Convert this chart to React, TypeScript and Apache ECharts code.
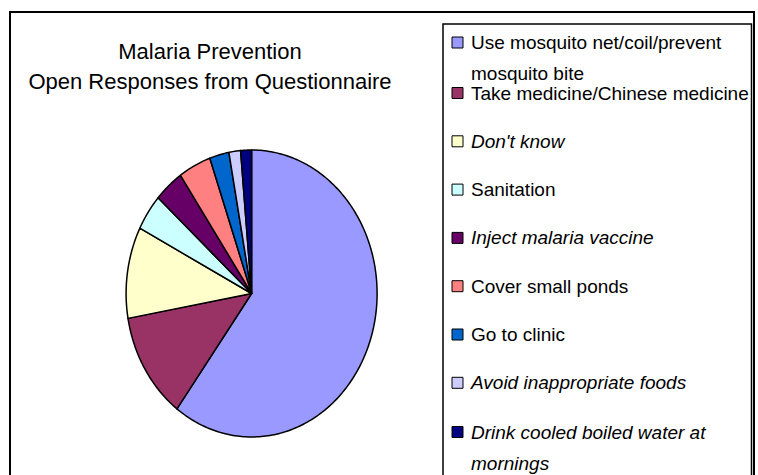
import React, { useEffect, useRef } from "react";
import * as echarts from "echarts";

// ---- data ----
const categories = [
  "Use mosquito net/coil/prevent mosquito bite",
  "Take medicine/Chinese medicine",
  "Don't know",
  "Sanitation",
  "Inject malaria vaccine",
  "Cover small ponds",
  "Go to clinic",
  "Avoid inappropriate foods",
  "Drink cooled boiled water at mornings",
];
const legendLines = [
  ["Use mosquito net/coil/prevent", "mosquito bite"],
  ["Take medicine/Chinese medicine"],
  ["Don't know"],
  ["Sanitation"],
  ["Inject malaria vaccine"],
  ["Cover small ponds"],
  ["Go to clinic"],
  ["Avoid inappropriate foods"],
  ["Drink cooled boiled water at", "mornings"],
];
const values = [60.2, 12.1, 10.3, 4.1, 3.8, 4.2, 2.5, 1.5, 1.4];
const colors = [
  "#9999FF",
  "#993366",
  "#FFFFCC",
  "#CCFFFF",
  "#660066",
  "#FF8080",
  "#0066CC",
  "#CCCCFF",
  "#000080",
];
const italicItems = [
  "Don't know",
  "Inject malaria vaccine",
  "Avoid inappropriate foods",
  "Drink cooled boiled water at mornings",
];
const titleLines = ["Malaria Prevention", "Open Responses from Questionnaire"];

// ---- layout ----
const FONT = "'Liberation Sans', Arial, sans-serif";
const CX = 251.6;
const CY = 293.5;
const RX = 125.5;
const RY = 143.5;
const LEG_FS = 19;
const MULTI_LH = 31;
const SINGLE_LH = 20;

function legendFormatter(name: string) {
  const idx = categories.indexOf(name);
  const tag = italicItems.includes(name) ? "i" : "n";
  return legendLines[idx].map((l) => `{${tag}|${l}}`).join("\n");
}

function rich(lh: number) {
  return {
    n: { fontFamily: FONT, fontSize: LEG_FS, color: "#000", lineHeight: lh },
    i: { fontFamily: FONT, fontSize: LEG_FS, color: "#000", lineHeight: lh, fontStyle: "italic" },
  };
}

function legendBase() {
  return {
    orient: "vertical",
    left: 451.5,
    padding: 0,
    itemWidth: 11,
    itemHeight: 11,
    icon: "rect",
    selectedMode: false,
    itemStyle: { borderColor: "#000", borderWidth: 1 },
    formatter: legendFormatter,
  };
}

export default function App() {
  const ref = useRef<HTMLDivElement>(null);

  useEffect(() => {
    if (!ref.current) return;
    const chart = echarts.init(ref.current, undefined, { renderer: "svg" });
    const total = values.reduce((a, b) => a + b, 0);

    const series = categories.map((name, i) => ({
      type: "custom",
      name,
      coordinateSystem: "none",
      itemStyle: { color: colors[i] },
      data: [[values[i]]],
      renderItem: (_params: any, api: any) => {
        const before = values.slice(0, i).reduce((a, b) => a + b, 0);
        const v = api.value(0);
        const a0 = (before / total) * Math.PI * 2;
        const a1 = ((before + v) / total) * Math.PI * 2;
        const n = Math.max(2, Math.ceil((a1 - a0) / (Math.PI / 180)));
        const pts: number[][] = [[CX, CY]];
        for (let k = 0; k <= n; k++) {
          const t = a0 + ((a1 - a0) * k) / n;
          pts.push([CX + RX * Math.sin(t), CY - RY * Math.cos(t)]);
        }
        return {
          type: "polygon",
          shape: { points: pts },
          style: { fill: colors[i], stroke: "#000", lineWidth: 1.5, lineJoin: "round" },
        };
      },
    }));

    chart.setOption({
      animation: false,
      backgroundColor: "#fff",
      title: {
        text: titleLines.join("\n"),
        left: 210,
        top: 36.5,
        padding: 0,
        textAlign: "center",
        textStyle: {
          fontFamily: FONT,
          fontSize: 22,
          fontWeight: "normal",
          color: "#000",
          lineHeight: 30,
        },
      },
      legend: [
        {
          ...legendBase(),
          data: [categories[0]],
          top: 33,
          textStyle: { padding: [MULTI_LH, 0, 0, 3], rich: rich(MULTI_LH) },
        },
        {
          ...legendBase(),
          data: categories.slice(1, 8),
          top: 93 - 9.5,
          itemGap: 48.3 - 19,
          textStyle: { padding: [0, 0, 0, 3], rich: rich(SINGLE_LH) },
        },
        {
          ...legendBase(),
          data: [categories[8]],
          top: 431 - 8.5,
          textStyle: { padding: [MULTI_LH, 0, 0, 3], rich: rich(MULTI_LH) },
        },
      ],
      graphic: [
        {
          type: "rect",
          shape: { x: 10, y: 12, width: 744, height: 480 },
          style: { fill: "none", stroke: "#000", lineWidth: 2 },
          silent: true,
          z: 0,
        },
        {
          type: "rect",
          shape: { x: 443, y: 24, width: 308.5, height: 470 },
          style: { fill: "none", stroke: "#000", lineWidth: 1.5 },
          silent: true,
          z: 0,
        },
      ],
      series,
    } as any);

    return () => chart.dispose();
  }, []);

  return (
    <div
      ref={ref}
      style={{ position: "fixed", left: 0, top: 0, width: 758, height: 475, background: "#fff" }}
    />
  );
}
